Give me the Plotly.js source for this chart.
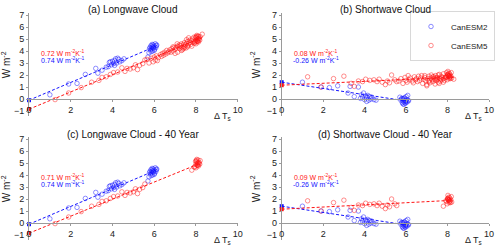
<!DOCTYPE html>
<html><head><meta charset="utf-8">
<script src="https://cdn.plot.ly/plotly-3.0.1.min.js"></script>
<style>html,body{margin:0;padding:0;background:#fff}#c{width:500px;height:248px}</style>
</head><body><div id="c"></div>
<script>
// CanESM2 (blue) annual means: dT, LW cloud, SW cloud
const esm2X  = [1.0,1.9,2.3,2.7,3.2,3.3,3.5,3.7,3.8,3.85,3.9,3.95,4.0,4.05,4.1,4.15,4.2,4.25,4.3,4.35,4.45,4.55,4.1,5.7,5.75,5.8,5.82,5.85,5.88,5.9,5.92,5.95,5.97,6.0,6.02,6.05,6.08,6.1,5.85,5.9,6.0,5.78,6.12,5.95];
const esm2LW = [0.35,1.25,1.3,2.05,2.55,2.15,2.4,2.65,2.7,3.05,3.1,2.85,3.15,2.95,3.2,3.35,3.0,3.4,3.3,3.1,3.2,3.35,2.8,3.5,3.85,4.3,4.1,4.45,4.2,4.35,4.0,4.5,4.25,4.4,4.15,4.6,4.3,4.45,3.95,4.55,4.05,4.2,4.5,4.3];
const esm2SW = [1.4,1.0,0.95,1.1,0.5,1.05,0.2,1.0,0.05,0.35,0.15,0.5,-0.05,0.25,0.1,0.3,-0.1,0.2,0.0,0.15,-0.05,-0.1,-0.2,0.15,-0.1,0.05,-0.3,0.0,-0.2,-0.45,0.1,-0.15,-0.35,0.2,-0.05,-0.25,0.3,-0.1,-0.4,0.05,-0.2,0.0,-0.15,-0.3];

// CanESM5 (red) annual means, full record
const esm5X  = [1.25,1.9,2.5,3.0,3.35,3.5,3.7,3.9,4.05,4.25,4.45,4.6,4.7,4.85,5.0,5.1,5.2,5.3,5.45,5.55,
  5.65,5.75,5.85,5.95,6.0,6.05,6.1,6.15,6.2,6.3,6.35,6.4,6.45,6.5,6.55,6.6,6.65,6.7,6.75,6.8,6.85,6.9,6.95,7.0,7.05,7.1,7.12,7.15,7.2,7.22,7.25,7.3,7.32,7.35,7.4,7.42,7.45,7.5,7.52,7.55,7.6,7.62,7.65,7.7,7.72,7.75,7.8,7.82,7.85,7.3,7.6,7.0,7.4,6.9,7.55,7.65,7.1,7.45,8.3,7.9,7.95,8.1,
  7.8,7.95,8.0,8.02,8.05,8.08,8.1,8.12,8.15,8.18,8.2,7.98,8.0,8.04,8.06,8.1,8.14,8.02,7.92,8.08];
const esm5LW = [-0.05,0.5,0.95,1.4,1.55,1.8,1.85,2.05,2.2,2.25,2.6,2.3,2.55,2.5,2.6,2.85,2.45,2.8,2.95,3.25,
  3.3,3.0,3.4,3.1,3.5,3.25,3.6,3.2,3.45,3.7,3.55,3.8,3.65,3.9,3.75,4.05,3.85,3.95,4.1,3.9,4.2,4.0,4.3,4.15,4.25,4.4,3.9,4.35,4.5,4.2,4.45,4.6,4.3,4.1,4.55,4.4,4.7,4.5,4.25,4.65,4.8,4.45,4.6,4.9,4.7,4.55,4.85,5.0,4.75,4.05,4.35,3.8,4.2,4.35,4.95,5.1,4.6,4.3,5.4,5.15,4.8,5.2,
  4.4,4.7,4.9,5.1,4.8,5.0,5.25,4.75,5.05,4.9,5.2,5.15,4.6,5.3,4.85,5.05,4.95,5.2,4.65,4.8];
const esm5SW = [1.85,1.0,1.7,1.9,1.3,1.05,1.5,1.45,1.65,1.55,1.6,1.45,1.65,1.4,1.2,1.5,1.35,2.0,1.6,1.45,
  1.5,1.7,1.3,1.8,1.55,1.4,1.95,1.6,1.75,1.5,1.35,1.85,1.6,1.7,1.45,1.9,1.55,1.75,1.95,1.3,1.65,1.8,1.5,1.2,1.7,1.9,1.55,1.35,1.75,2.0,1.6,1.45,1.85,1.7,1.25,1.95,1.55,1.8,1.65,1.4,2.05,1.75,1.5,1.9,1.6,1.8,2.1,1.7,1.55,1.85,1.3,1.1,1.6,1.95,2.0,1.7,1.45,1.75,1.65,1.8,2.2,1.9,
  1.4,1.8,2.0,2.3,1.9,1.7,2.1,1.85,1.95,2.2,1.75,1.6,2.0,1.9,2.15,1.8,1.7,2.05,1.85,1.95];
// the "40 year" subset: first 20 and last 20 years
const sub40 = [0,1,2,3,4,5,6,7,8,9,10,11,12,13,14,15,16,17,18,19,
  82,83,84,85,86,87,88,89,90,91,92,93,94,95,96,97,98,99,100,101];

// regression fits [slope, intercept] per panel: CanESM2, CanESM5
const fitsESM2 = {a:[0.74,-0.1], b:[-0.26,1.4], c:[0.74,-0.1], d:[-0.26,1.4]};
const fitsESM5 = {a:[0.72,-0.85], b:[0.08,1.15], c:[0.71,-0.85], d:[0.09,1.15]};
const slopeLabels2 = {a:'0.74', b:'-0.26', c:'0.74', d:'-0.26'};
const slopeLabels5 = {a:'0.72', b:'0.08', c:'0.71', d:'0.09'};
const panelTitles = {a:'(a) Longwave Cloud', b:'(b) Shortwave Cloud', c:'(c) Longwave Cloud - 40 Year', d:'(d) Shortwave Cloud - 40 Year'};

const BLUE='rgb(20,20,255)', RED='rgb(255,20,20)';
const FONT='Liberation Sans, Arial, sans-serif';
const pick=(arr,idx)=>idx.map(i=>arr[i]);

const panels = {
  a:{xa:'x', ya:'y',  x2:esm2X, y2:esm2LW, x5:esm5X, y5:esm5LW},
  b:{xa:'x2',ya:'y2', x2:esm2X, y2:esm2SW, x5:esm5X, y5:esm5SW},
  c:{xa:'x3',ya:'y3', x2:esm2X, y2:esm2LW, x5:pick(esm5X,sub40), y5:pick(esm5LW,sub40)},
  d:{xa:'x4',ya:'y4', x2:esm2X, y2:esm2SW, x5:pick(esm5X,sub40), y5:pick(esm5SW,sub40)}
};

const traces=[];
for (const k of ['a','b','c','d']) {
  const p=panels[k];
  const series=[[p.x2,p.y2,BLUE,fitsESM2[k],'CanESM2'],[p.x5,p.y5,RED,fitsESM5[k],'CanESM5']];
  for (const [xs,ys,col,fit,name] of series) {
    traces.push({type:'scatter',mode:'markers',x:xs,y:ys,xaxis:p.xa,yaxis:p.ya,name:name,
      showlegend:k==='b',legendrank: name==='CanESM2'?1:2,
      marker:{symbol:'circle-open',size:4.5,color:col,opacity:0.6,line:{width:0.8,color:col}},cliponaxis:false});
  }
  for (const [xs,ys,col,fit] of series) {
    const xmax=Math.max(...xs);
    traces.push({type:'scatter',mode:'lines',x:[0,xmax],y:[fit[1],fit[1]+fit[0]*xmax],xaxis:p.xa,yaxis:p.ya,
      showlegend:false,line:{color:col,width:1,dash:'3px,2px'},cliponaxis:false});
    traces.push({type:'scatter',mode:'markers',x:[0],y:[fit[1]],xaxis:p.xa,yaxis:p.ya,showlegend:false,
      marker:{symbol:'square',size:4,color:col},cliponaxis:false});
  }
}

const W=500,H=248;
const xDom=[[29/W,237.7/W],[281.7/W,489/W]];
const yDomTop=[1-116.4/H,1-13.2/H], yDomBot=[1-240.4/H,1-137.2/H];
const yr=[-1.45,7.15];
const zeroPos=(dom)=>dom[0]+(0-yr[0])/(yr[1]-yr[0])*(dom[1]-dom[0]);

function xax(dom,yd){return {domain:dom,range:[0,10],dtick:2,anchor:'free',position:zeroPos(yd),
  showline:true,linecolor:'#9a9a9a',linewidth:1,ticks:'outside',ticklen:2,tickcolor:'#9a9a9a',showgrid:false,zeroline:false,
  tickfont:{size:9,color:'#222',family:FONT}};}
function yax(dom,anch){return {domain:dom,range:yr,tickvals:[-1,0,1,2,3,4,5,6,7],anchor:anch,showline:true,linecolor:'#9a9a9a',linewidth:1,
  ticks:'outside',ticklen:2,tickcolor:'#9a9a9a',showgrid:false,zeroline:false,tickfont:{size:9,color:'#222',family:FONT},
  title:{text:'W m<sup>-2</sup>',font:{size:10,color:'#222',family:FONT},standoff:4}};}

const annotations=[];
const geo={a:[xDom[0],yDomTop,'x','y',10],b:[xDom[1],yDomTop,'x2','y2',10],c:[xDom[0],yDomBot,'x3','y3',134],d:[xDom[1],yDomBot,'x4','y4',134]};
for (const k of ['a','b','c','d']) {
  const [xd,yd,xa,ya,ty]=geo[k];
  annotations.push({xref:'paper',yref:'paper',x:(xd[0]+xd[1])/2,y:1-ty/H,text:panelTitles[k],showarrow:false,
    xanchor:'center',yanchor:'middle',font:{size:10,color:'#111',family:FONT}});
  annotations.push({xref:'paper',yref:'paper',x:xd[0]+(xd[1]-xd[0])*0.925,y:1-(ty+106)/H,text:'Δ T<sub>s</sub>',showarrow:false,
    xanchor:'center',yanchor:'middle',font:{size:9,color:'#222',family:FONT}});
  annotations.push({xref:xa,yref:ya,x:0.5,y:3.85,text:slopeLabels5[k]+' W m<sup>-2</sup>K<sup>-1</sup>',showarrow:false,
    xanchor:'left',yanchor:'middle',font:{size:7,color:RED,family:FONT}});
  annotations.push({xref:xa,yref:ya,x:(slopeLabels2[k][0]==='-'?0.45:0.5),y:3.25,text:slopeLabels2[k]+' W m<sup>-2</sup>K<sup>-1</sup>',showarrow:false,
    xanchor:'left',yanchor:'middle',font:{size:7,color:BLUE,family:FONT}});
}

const layout={width:W,height:H,margin:{l:0,r:0,t:0,b:0},paper_bgcolor:'#fff',plot_bgcolor:'rgba(0,0,0,0)',
  font:{family:FONT},
  xaxis:xax(xDom[0],yDomTop),yaxis:yax(yDomTop,'x'),
  xaxis2:xax(xDom[1],yDomTop),yaxis2:yax(yDomTop,'x2'),
  xaxis3:xax(xDom[0],yDomBot),yaxis3:yax(yDomBot,'x3'),
  xaxis4:xax(xDom[1],yDomBot),yaxis4:yax(yDomBot,'x4'),
  legend:{x:410/W,y:1-11/H,xanchor:'left',yanchor:'top',bordercolor:'#d8d8d8',borderwidth:1,bgcolor:'#fff',
    font:{size:8,color:'#222',family:FONT},tracegroupgap:0,itemwidth:30},
  annotations:annotations,showlegend:true};
Plotly.newPlot('c',traces,layout,{staticPlot:true,displayModeBar:false});
</script></body></html>
